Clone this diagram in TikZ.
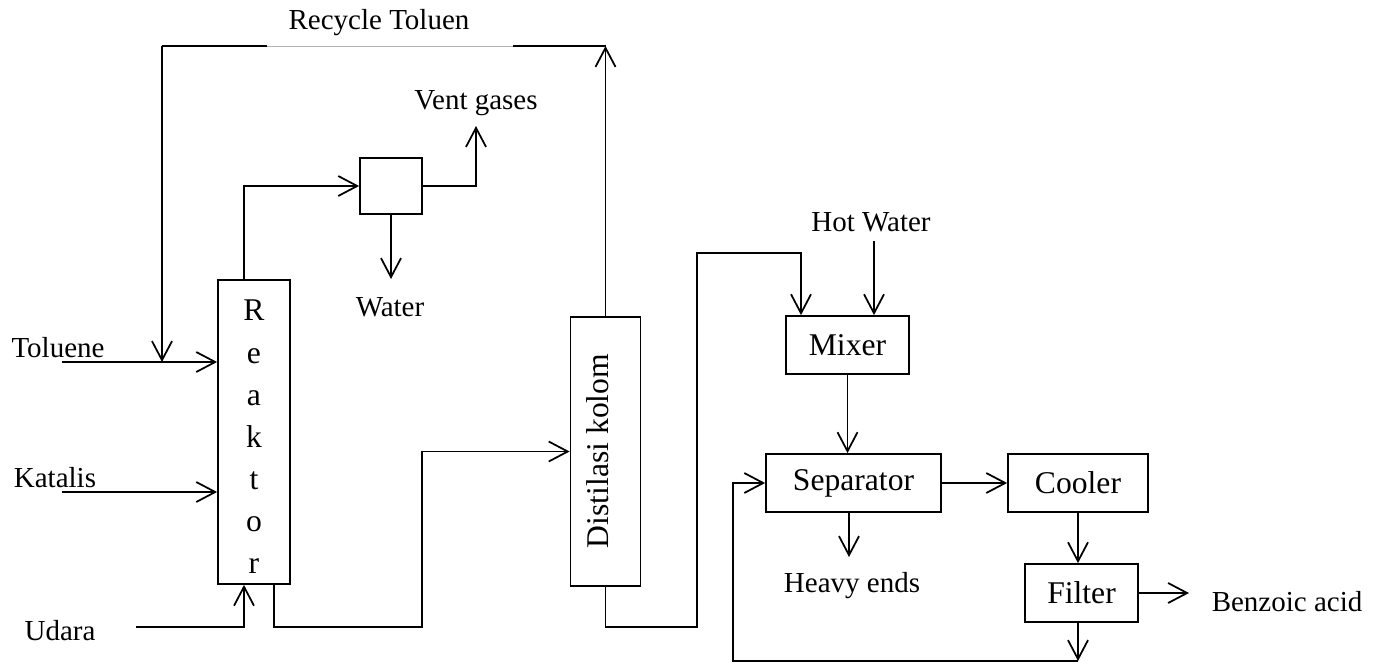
\documentclass[tikz,border=0pt]{standalone}
\usepackage{fontspec}
\setmainfont{Liberation Serif}
\usetikzlibrary{calc,arrows.meta,positioning}
\tikzset{
  unit/.style={draw,line width=1pt,rectangle,inner sep=0pt},
  pipe/.style={line width=1pt},
  flow/.style={line width=1pt,-{Straight Barb[length=0.38cm,width=0.4cm]}},
  lbl/.style={font=\fontsize{16.5}{20}\selectfont,inner sep=0pt},
  big/.style={font=\fontsize{18}{24}\selectfont,inner sep=0pt}
}
\begin{document}
\begin{tikzpicture}[x=0.02cm,y=-0.02cm]
\useasboundingbox (0,0) rectangle (1375,663);
% units
\node[unit,minimum width=1.44cm,minimum height=6.08cm] (reaktor) at (254,432) {};
\node[big,align=center] (reaktorlbl) at (254,437) {R\\e\\a\\k\\t\\o\\r};
\node[unit,minimum width=1.24cm,minimum height=1.12cm] (flash) at (391,186) {};
\node[unit,minimum width=1.40cm,minimum height=5.38cm] (kolom) at (605.5,451.5) {};
\node[big,rotate=90] (kolomlbl) at (598,451) {Distilasi kolom};
\node[unit,big,minimum width=2.46cm,minimum height=1.16cm] (mixer) at (847.5,345) {Mixer};
\node[unit,big,minimum width=3.50cm,minimum height=1.16cm] (separator) at (853.5,483) {Separator};
\node[unit,big,minimum width=2.80cm,minimum height=1.16cm] (cooler) at (1078,483) {Cooler};
\node[unit,big,minimum width=2.26cm,minimum height=1.16cm] (filter) at (1081.5,593) {Filter};
% stream labels
\node[lbl] (recycle) at (379,23) {Recycle Toluen};
\node[lbl] (toluene) at (58,348) {Toluene};
\node[lbl] (katalis) at (55,478) {Katalis};
\node[lbl] (udara) at (60,631) {Udara};
\node[lbl] (ventlbl) at (476,103) {Vent gases};
\node[lbl] (waterlbl) at (390,307) {Water};
\node[lbl] (hotlbl) at (871,222) {Hot Water};
\node[lbl] (heavylbl) at (852,586) {Heavy ends};
\node[lbl] (benzlbl) at (1287,602) {Benzoic acid};
% free ends
\coordinate (rtR) at (606,46);
\coordinate (rtL) at (162,46);
\coordinate (tolin) at (62,362);
\coordinate (katin) at (62,492);
\coordinate (udin) at (136,627);
\coordinate (vent) at (476,126);
\coordinate (wout) at (391,279);
\coordinate (hw) at (874,241);
\coordinate (heavy) at (849,557);
\coordinate (bz) at (1189,593);
\coordinate (fbot) at (1078,661);
% recycle toluen
\draw[flow] (kolom.north) -- (kolom.north |- rtR);
\draw[pipe] (rtR) -- (513,46);
\draw[gray!60,thin] (513,46) -- (267,46);
\draw[pipe] (267,46) -- (rtL);
\draw[flow] (rtL) -- (rtL |- tolin);
% feeds
\draw[flow] (tolin) -- (reaktor.west |- tolin);
\draw[flow] (katin) -- (reaktor.west |- katin);
\draw[flow] (udin) -| ($(reaktor.south)+(-10,0)$);
% reaktor outlets
\draw[flow] ($(reaktor.north)+(-10,0)$) |- (flash.west);
\draw[flow] (flash.east) -| (vent);
\draw[flow] (flash.south) -- (wout);
\draw[flow] ($(reaktor.south)+(20,0)$) |- (422,627) |- (kolom.west);
% kolom to mixer
\coordinate (mxa) at ($(mixer.north)+(-46.5,0)$);
\draw[flow] (kolom.south) |- (697,627) |- ($(mxa)+(0,-62)$) -- (mxa);
\draw[flow] (hw) -- (hw |- mixer.north);
\draw[flow] (mixer.south) -- (mixer.south |- separator.north);
\draw[flow] (separator.east) -- (cooler.west);
\draw[flow] (separator.south -| heavy) -- (heavy);
\draw[flow] (cooler.south) -- (cooler.south |- filter.north);
\draw[flow] (filter.east) -- (bz);
\draw[flow] (filter.south -| fbot) -- (fbot);
\draw[flow] (fbot) -| ($(separator.west)+(-32,0)$) -- (separator.west);
\end{tikzpicture}
\end{document}
